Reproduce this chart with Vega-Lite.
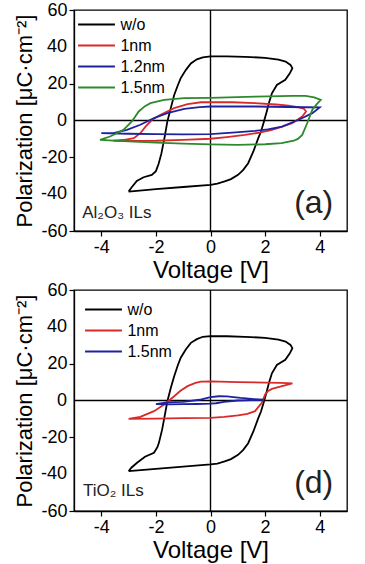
{
  "$schema": "https://vega.github.io/schema/vega-lite/v6.json",
  "padding": {"left": 13, "top": 0, "right": 0, "bottom": 0},
  "background": "white",
  "config": {
    "font": "Liberation Sans",
    "view": {"stroke": "black", "strokeWidth": 1.3},
    "axis": {"domainColor": "black", "domainWidth": 1.3, "tickColor": "black", "tickWidth": 1.2, "tickSize": 5, "labelColor": "black", "titleColor": "black", "labelFontSize": 18, "titleFontSize": 22, "titleFontWeight": "normal", "grid": false, "labelPadding": 2, "labelOverlap": false, "labelBound": false, "labelFlush": false},
    "axisX": {"titleFontSize": 24},
    "legend": {"orient": "none", "title": null, "symbolType": "M-2,0H2", "symbolSize": 340, "symbolStrokeWidth": 2, "labelFontSize": 16, "labelColor": "black", "labelOffset": 13.4, "rowPadding": 2}
  },
  "resolve": {"scale": {"color": "independent"}, "legend": {"color": "independent"}},
  "spacing": -3,
  "datasets": {
    "ylab": [
      {"t": "40", "P": 40},
      {"t": "0", "P": 0},
      {"t": "-40", "P": -40}
    ],
    "a": [
      {"s": "w/o", "i": 1, "V": -3.0, "P": -38.6},
      {"s": "w/o", "i": 2, "V": -2.9, "P": -36.5},
      {"s": "w/o", "i": 3, "V": -2.7, "P": -32.8},
      {"s": "w/o", "i": 4, "V": -2.45, "P": -30.8},
      {"s": "w/o", "i": 5, "V": -2.15, "P": -29.5},
      {"s": "w/o", "i": 6, "V": -2.0, "P": -27.5},
      {"s": "w/o", "i": 7, "V": -1.9, "P": -23.5},
      {"s": "w/o", "i": 8, "V": -1.8, "P": -18},
      {"s": "w/o", "i": 9, "V": -1.68, "P": -9},
      {"s": "w/o", "i": 10, "V": -1.58, "P": -0.5},
      {"s": "w/o", "i": 11, "V": -1.45, "P": 7},
      {"s": "w/o", "i": 12, "V": -1.33, "P": 13.9},
      {"s": "w/o", "i": 13, "V": -1.2, "P": 19},
      {"s": "w/o", "i": 14, "V": -1.09, "P": 23},
      {"s": "w/o", "i": 15, "V": -0.9, "P": 27.5},
      {"s": "w/o", "i": 16, "V": -0.72, "P": 31},
      {"s": "w/o", "i": 17, "V": -0.5, "P": 33.2},
      {"s": "w/o", "i": 18, "V": -0.28, "P": 34.3},
      {"s": "w/o", "i": 19, "V": 0, "P": 34.8},
      {"s": "w/o", "i": 20, "V": 0.6, "P": 34.8},
      {"s": "w/o", "i": 21, "V": 1.26, "P": 34.6},
      {"s": "w/o", "i": 22, "V": 2.0, "P": 34.0},
      {"s": "w/o", "i": 23, "V": 2.49, "P": 33},
      {"s": "w/o", "i": 24, "V": 2.75, "P": 32},
      {"s": "w/o", "i": 25, "V": 2.93, "P": 30.2},
      {"s": "w/o", "i": 26, "V": 3.0, "P": 28.4},
      {"s": "w/o", "i": 27, "V": 2.9, "P": 25.5},
      {"s": "w/o", "i": 28, "V": 2.74, "P": 22.1},
      {"s": "w/o", "i": 29, "V": 2.43, "P": 19.3},
      {"s": "w/o", "i": 30, "V": 2.25, "P": 14.8},
      {"s": "w/o", "i": 31, "V": 2.15, "P": 10},
      {"s": "w/o", "i": 32, "V": 2.06, "P": 4.9},
      {"s": "w/o", "i": 33, "V": 1.94, "P": -1.5},
      {"s": "w/o", "i": 34, "V": 1.85, "P": -6},
      {"s": "w/o", "i": 35, "V": 1.75, "P": -9.6},
      {"s": "w/o", "i": 36, "V": 1.57, "P": -16.8},
      {"s": "w/o", "i": 37, "V": 1.38, "P": -23.2},
      {"s": "w/o", "i": 38, "V": 1.2, "P": -26.8},
      {"s": "w/o", "i": 39, "V": 1.01, "P": -29.5},
      {"s": "w/o", "i": 40, "V": 0.75, "P": -31.8},
      {"s": "w/o", "i": 41, "V": 0.52, "P": -33.1},
      {"s": "w/o", "i": 42, "V": 0.25, "P": -34.3},
      {"s": "w/o", "i": 43, "V": 0, "P": -34.9},
      {"s": "w/o", "i": 44, "V": -1, "P": -36.1},
      {"s": "w/o", "i": 45, "V": -2, "P": -37.3},
      {"s": "w/o", "i": 46, "V": -3.0, "P": -38.6},

      {"s": "1nm", "i": 1, "V": -3.55, "P": -11},
      {"s": "1nm", "i": 2, "V": -3.2, "P": -10.6},
      {"s": "1nm", "i": 3, "V": -2.81, "P": -9.6},
      {"s": "1nm", "i": 4, "V": -2.57, "P": -6.9},
      {"s": "1nm", "i": 5, "V": -2.38, "P": -3.3},
      {"s": "1nm", "i": 6, "V": -2.14, "P": 0.4},
      {"s": "1nm", "i": 7, "V": -1.83, "P": 3.1},
      {"s": "1nm", "i": 8, "V": -1.33, "P": 6.7},
      {"s": "1nm", "i": 9, "V": -0.84, "P": 8.9},
      {"s": "1nm", "i": 10, "V": -0.35, "P": 9.9},
      {"s": "1nm", "i": 11, "V": 0, "P": 10},
      {"s": "1nm", "i": 12, "V": 0.8, "P": 9.9},
      {"s": "1nm", "i": 13, "V": 1.63, "P": 9.4},
      {"s": "1nm", "i": 14, "V": 2.4, "P": 8.7},
      {"s": "1nm", "i": 15, "V": 2.86, "P": 8.0},
      {"s": "1nm", "i": 16, "V": 3.2, "P": 7.2},
      {"s": "1nm", "i": 17, "V": 3.42, "P": 6.4},
      {"s": "1nm", "i": 18, "V": 3.5, "P": 4.9},
      {"s": "1nm", "i": 19, "V": 3.36, "P": 2.2},
      {"s": "1nm", "i": 20, "V": 3.2, "P": 0.5},
      {"s": "1nm", "i": 21, "V": 2.99, "P": -1.5},
      {"s": "1nm", "i": 22, "V": 2.6, "P": -3.5},
      {"s": "1nm", "i": 23, "V": 2.25, "P": -5.1},
      {"s": "1nm", "i": 24, "V": 1.8, "P": -6.6},
      {"s": "1nm", "i": 25, "V": 1.26, "P": -7.8},
      {"s": "1nm", "i": 26, "V": 0.6, "P": -9},
      {"s": "1nm", "i": 27, "V": 0, "P": -9.9},
      {"s": "1nm", "i": 28, "V": -1, "P": -10.5},
      {"s": "1nm", "i": 29, "V": -2, "P": -11},
      {"s": "1nm", "i": 30, "V": -3, "P": -11.1},
      {"s": "1nm", "i": 31, "V": -3.55, "P": -11},

      {"s": "1.2nm", "i": 1, "V": -4.0, "P": -6.9},
      {"s": "1.2nm", "i": 2, "V": -3.56, "P": -6.9},
      {"s": "1.2nm", "i": 3, "V": -3.06, "P": -5.1},
      {"s": "1.2nm", "i": 4, "V": -2.57, "P": -2.3},
      {"s": "1.2nm", "i": 5, "V": -2.07, "P": 1.3},
      {"s": "1.2nm", "i": 6, "V": -1.58, "P": 4.0},
      {"s": "1.2nm", "i": 7, "V": -0.96, "P": 6.3},
      {"s": "1.2nm", "i": 8, "V": -0.4, "P": 7.3},
      {"s": "1.2nm", "i": 9, "V": 0, "P": 7.6},
      {"s": "1.2nm", "i": 10, "V": 1.63, "P": 7.6},
      {"s": "1.2nm", "i": 11, "V": 3.48, "P": 7.2},
      {"s": "1.2nm", "i": 12, "V": 4.0, "P": 7.1},
      {"s": "1.2nm", "i": 13, "V": 3.73, "P": 4.0},
      {"s": "1.2nm", "i": 14, "V": 3.23, "P": 0.4},
      {"s": "1.2nm", "i": 15, "V": 2.62, "P": -3.3},
      {"s": "1.2nm", "i": 16, "V": 2.1, "P": -4.8},
      {"s": "1.2nm", "i": 17, "V": 1.63, "P": -5.6},
      {"s": "1.2nm", "i": 18, "V": 0.8, "P": -6.6},
      {"s": "1.2nm", "i": 19, "V": 0, "P": -7.4},
      {"s": "1.2nm", "i": 20, "V": -1, "P": -7.5},
      {"s": "1.2nm", "i": 21, "V": -2, "P": -7.4},
      {"s": "1.2nm", "i": 22, "V": -3, "P": -7.2},
      {"s": "1.2nm", "i": 23, "V": -4.0, "P": -6.9},

      {"s": "1.5nm", "i": 1, "V": -4.05, "P": -10.5},
      {"s": "1.5nm", "i": 2, "V": -3.68, "P": -8.7},
      {"s": "1.5nm", "i": 3, "V": -3.19, "P": -5.1},
      {"s": "1.5nm", "i": 4, "V": -2.88, "P": -0.5},
      {"s": "1.5nm", "i": 5, "V": -2.63, "P": 4.9},
      {"s": "1.5nm", "i": 6, "V": -2.4, "P": 7.8},
      {"s": "1.5nm", "i": 7, "V": -2.2, "P": 9.4},
      {"s": "1.5nm", "i": 8, "V": -1.7, "P": 11.2},
      {"s": "1.5nm", "i": 9, "V": -0.96, "P": 12.1},
      {"s": "1.5nm", "i": 10, "V": 0, "P": 12.3},
      {"s": "1.5nm", "i": 11, "V": 1.63, "P": 13.0},
      {"s": "1.5nm", "i": 12, "V": 3.0, "P": 13.4},
      {"s": "1.5nm", "i": 13, "V": 3.48, "P": 13.4},
      {"s": "1.5nm", "i": 14, "V": 3.8, "P": 12.6},
      {"s": "1.5nm", "i": 15, "V": 4.04, "P": 11.2},
      {"s": "1.5nm", "i": 16, "V": 3.9, "P": 9},
      {"s": "1.5nm", "i": 17, "V": 3.73, "P": 5.8},
      {"s": "1.5nm", "i": 18, "V": 3.54, "P": -1.5},
      {"s": "1.5nm", "i": 19, "V": 3.36, "P": -7.8},
      {"s": "1.5nm", "i": 20, "V": 3.2, "P": -10},
      {"s": "1.5nm", "i": 21, "V": 3.05, "P": -11},
      {"s": "1.5nm", "i": 22, "V": 2.6, "P": -12.3},
      {"s": "1.5nm", "i": 23, "V": 2.0, "P": -12.9},
      {"s": "1.5nm", "i": 24, "V": 1.0, "P": -13.2},
      {"s": "1.5nm", "i": 25, "V": 0, "P": -13.0},
      {"s": "1.5nm", "i": 26, "V": -1, "P": -12.6},
      {"s": "1.5nm", "i": 27, "V": -2, "P": -12.0},
      {"s": "1.5nm", "i": 28, "V": -3, "P": -11.3},
      {"s": "1.5nm", "i": 29, "V": -4.05, "P": -10.5}
    ],
    "d": [
      {"s": "w/o", "i": 1, "V": -3.0, "P": -38.4},
      {"s": "w/o", "i": 2, "V": -2.9, "P": -36.5},
      {"s": "w/o", "i": 3, "V": -2.69, "P": -33.8},
      {"s": "w/o", "i": 4, "V": -2.4, "P": -30.5},
      {"s": "w/o", "i": 5, "V": -2.07, "P": -28.4},
      {"s": "w/o", "i": 6, "V": -1.95, "P": -25.5},
      {"s": "w/o", "i": 7, "V": -1.89, "P": -23},
      {"s": "w/o", "i": 8, "V": -1.77, "P": -15.7},
      {"s": "w/o", "i": 9, "V": -1.68, "P": -8.5},
      {"s": "w/o", "i": 10, "V": -1.58, "P": -0.4},
      {"s": "w/o", "i": 11, "V": -1.45, "P": 7},
      {"s": "w/o", "i": 12, "V": -1.33, "P": 13.2},
      {"s": "w/o", "i": 13, "V": -1.2, "P": 19},
      {"s": "w/o", "i": 14, "V": -1.09, "P": 23.2},
      {"s": "w/o", "i": 15, "V": -0.9, "P": 27.8},
      {"s": "w/o", "i": 16, "V": -0.72, "P": 31.3},
      {"s": "w/o", "i": 17, "V": -0.5, "P": 33.3},
      {"s": "w/o", "i": 18, "V": -0.28, "P": 34.6},
      {"s": "w/o", "i": 19, "V": 0, "P": 35},
      {"s": "w/o", "i": 20, "V": 0.6, "P": 34.9},
      {"s": "w/o", "i": 21, "V": 1.26, "P": 34.6},
      {"s": "w/o", "i": 22, "V": 2.0, "P": 34.0},
      {"s": "w/o", "i": 23, "V": 2.49, "P": 33},
      {"s": "w/o", "i": 24, "V": 2.75, "P": 32},
      {"s": "w/o", "i": 25, "V": 2.93, "P": 30.2},
      {"s": "w/o", "i": 26, "V": 3.0, "P": 28.4},
      {"s": "w/o", "i": 27, "V": 2.9, "P": 25.5},
      {"s": "w/o", "i": 28, "V": 2.74, "P": 22.1},
      {"s": "w/o", "i": 29, "V": 2.43, "P": 19.3},
      {"s": "w/o", "i": 30, "V": 2.25, "P": 14.8},
      {"s": "w/o", "i": 31, "V": 2.15, "P": 10},
      {"s": "w/o", "i": 32, "V": 2.06, "P": 4.9},
      {"s": "w/o", "i": 33, "V": 1.94, "P": -1.5},
      {"s": "w/o", "i": 34, "V": 1.85, "P": -6},
      {"s": "w/o", "i": 35, "V": 1.75, "P": -9.6},
      {"s": "w/o", "i": 36, "V": 1.57, "P": -16.8},
      {"s": "w/o", "i": 37, "V": 1.38, "P": -23.2},
      {"s": "w/o", "i": 38, "V": 1.2, "P": -26.8},
      {"s": "w/o", "i": 39, "V": 1.01, "P": -29.5},
      {"s": "w/o", "i": 40, "V": 0.75, "P": -31.8},
      {"s": "w/o", "i": 41, "V": 0.52, "P": -33.1},
      {"s": "w/o", "i": 42, "V": 0.25, "P": -34.3},
      {"s": "w/o", "i": 43, "V": 0, "P": -34.7},
      {"s": "w/o", "i": 44, "V": -1, "P": -35.9},
      {"s": "w/o", "i": 45, "V": -2, "P": -37.1},
      {"s": "w/o", "i": 46, "V": -3.0, "P": -38.4},

      {"s": "1nm", "i": 1, "V": -3.0, "P": -10},
      {"s": "1nm", "i": 2, "V": -2.57, "P": -8.9},
      {"s": "1nm", "i": 3, "V": -2.07, "P": -5.8},
      {"s": "1nm", "i": 4, "V": -1.7, "P": -2.2},
      {"s": "1nm", "i": 5, "V": -1.33, "P": 2.3},
      {"s": "1nm", "i": 6, "V": -1.1, "P": 5.3},
      {"s": "1nm", "i": 7, "V": -0.84, "P": 7.8},
      {"s": "1nm", "i": 8, "V": -0.55, "P": 9.6},
      {"s": "1nm", "i": 9, "V": -0.35, "P": 10.3},
      {"s": "1nm", "i": 10, "V": 0, "P": 10.4},
      {"s": "1nm", "i": 11, "V": 1.0, "P": 10.0},
      {"s": "1nm", "i": 12, "V": 2.0, "P": 9.7},
      {"s": "1nm", "i": 13, "V": 2.6, "P": 9.6},
      {"s": "1nm", "i": 14, "V": 3.0, "P": 9.3},
      {"s": "1nm", "i": 15, "V": 2.62, "P": 7.8},
      {"s": "1nm", "i": 16, "V": 2.25, "P": 6.3},
      {"s": "1nm", "i": 17, "V": 2.1, "P": 5},
      {"s": "1nm", "i": 18, "V": 2.0, "P": 3.3},
      {"s": "1nm", "i": 19, "V": 1.88, "P": -1.3},
      {"s": "1nm", "i": 20, "V": 1.63, "P": -5.8},
      {"s": "1nm", "i": 21, "V": 1.35, "P": -7.3},
      {"s": "1nm", "i": 22, "V": 1.01, "P": -8.1},
      {"s": "1nm", "i": 23, "V": 0.5, "P": -8.9},
      {"s": "1nm", "i": 24, "V": 0, "P": -9.4},
      {"s": "1nm", "i": 25, "V": -1, "P": -9.6},
      {"s": "1nm", "i": 26, "V": -2, "P": -9.8},
      {"s": "1nm", "i": 27, "V": -3.0, "P": -10},

      {"s": "1.5nm", "i": 1, "V": -2.0, "P": -2.0},
      {"s": "1.5nm", "i": 2, "V": -1.6, "P": -1.0},
      {"s": "1.5nm", "i": 3, "V": -1.0, "P": -0.7},
      {"s": "1.5nm", "i": 4, "V": -0.4, "P": 0.4},
      {"s": "1.5nm", "i": 5, "V": 0, "P": 1.8},
      {"s": "1.5nm", "i": 6, "V": 0.3, "P": 2.3},
      {"s": "1.5nm", "i": 7, "V": 0.6, "P": 2.2},
      {"s": "1.5nm", "i": 8, "V": 1.1, "P": 1.4},
      {"s": "1.5nm", "i": 9, "V": 1.6, "P": 0.8},
      {"s": "1.5nm", "i": 10, "V": 1.95, "P": 0.4},
      {"s": "1.5nm", "i": 11, "V": 1.5, "P": 0.2},
      {"s": "1.5nm", "i": 12, "V": 1.0, "P": 0.0},
      {"s": "1.5nm", "i": 13, "V": 0.5, "P": -0.8},
      {"s": "1.5nm", "i": 14, "V": 0.2, "P": -1.5},
      {"s": "1.5nm", "i": 15, "V": 0, "P": -1.7},
      {"s": "1.5nm", "i": 16, "V": -0.5, "P": -1.9},
      {"s": "1.5nm", "i": 17, "V": -1.0, "P": -2.0},
      {"s": "1.5nm", "i": 18, "V": -1.5, "P": -2.1},
      {"s": "1.5nm", "i": 19, "V": -2.0, "P": -2.0}
    ]
  },
  "vconcat": [
    {
      "width": 273,
      "height": 221,
      "layer": [
        {"data": {"values": [{}]}, "mark": {"type": "rule", "color": "black", "strokeWidth": 1.4}, "encoding": {"x": {"datum": 0}}},
        {"data": {"values": [{}]}, "mark": {"type": "rule", "color": "black", "strokeWidth": 1.4}, "encoding": {"y": {"datum": 0}}},
        {
          "data": {"name": "a"},
          "mark": {"type": "line", "strokeWidth": 1.8},
          "encoding": {
            "x": {"field": "V", "type": "quantitative", "scale": {"domain": [-5, 5], "nice": false}, "axis": {"title": "Voltage [V]", "values": [-4, -2, 0, 2, 4], "labelOverlap": false, "labelExpr": "toString(datum.value)", "titlePadding": 2}},
            "y": {"field": "P", "type": "quantitative", "scale": {"domain": [-60, 60], "nice": false}, "axis": {"title": "Polarization [μC·cm⁻²]", "values": [-60, -40, -20, 0, 20, 40, 60], "labelOverlap": false, "labelExpr": "toString(datum.value)", "titlePadding": 4}},
            "color": {"field": "s", "type": "nominal", "scale": {"domain": ["w/o", "1nm", "1.2nm", "1.5nm"], "range": ["#000000", "#d92a2a", "#1e22a0", "#2c8a2c"]}, "legend": {"legendX": 12, "legendY": 4}},
            "order": {"field": "i", "type": "quantitative"}
          }
        },
        {"data": {"name": "ylab"}, "mark": {"type": "text", "fontSize": 18, "align": "right", "baseline": "middle", "dx": -7, "color": "black"}, "encoding": {"x": {"datum": -5}, "y": {"field": "P", "type": "quantitative"}, "text": {"field": "t"}}},
        {"data": {"values": [{}]}, "mark": {"type": "text", "text": "(a)", "fontSize": 32, "align": "center", "baseline": "middle", "color": "#222222"}, "encoding": {"x": {"datum": 3.78}, "y": {"datum": -45}}},
        {"data": {"values": [{}]}, "mark": {"type": "text", "text": "Al₂O₃ ILs", "fontSize": 17, "align": "left", "baseline": "middle", "color": "#222222"}, "encoding": {"x": {"datum": -4.7}, "y": {"datum": -50.3}}}
      ]
    },
    {
      "width": 273,
      "height": 221,
      "layer": [
        {"data": {"values": [{}]}, "mark": {"type": "rule", "color": "black", "strokeWidth": 1.4}, "encoding": {"x": {"datum": 0}}},
        {"data": {"values": [{}]}, "mark": {"type": "rule", "color": "black", "strokeWidth": 1.4}, "encoding": {"y": {"datum": 0}}},
        {
          "data": {"name": "d"},
          "mark": {"type": "line", "strokeWidth": 1.8},
          "encoding": {
            "x": {"field": "V", "type": "quantitative", "scale": {"domain": [-5, 5], "nice": false}, "axis": {"title": "Voltage [V]", "values": [-4, -2, 0, 2, 4], "labelOverlap": false, "labelExpr": "toString(datum.value)", "titlePadding": 2}},
            "y": {"field": "P", "type": "quantitative", "scale": {"domain": [-60, 60], "nice": false}, "axis": {"title": "Polarization [μC·cm⁻²]", "values": [-60, -40, -20, 0, 20, 40, 60], "labelOverlap": false, "labelExpr": "toString(datum.value)", "titlePadding": 4}},
            "color": {"field": "s", "type": "nominal", "scale": {"domain": ["w/o", "1nm", "1.5nm"], "range": ["#000000", "#d92a2a", "#1e22a0"]}, "legend": {"legendX": 19, "legendY": 9}},
            "order": {"field": "i", "type": "quantitative"}
          }
        },
        {"data": {"name": "ylab"}, "mark": {"type": "text", "fontSize": 18, "align": "right", "baseline": "middle", "dx": -7, "color": "black"}, "encoding": {"x": {"datum": -5}, "y": {"field": "P", "type": "quantitative"}, "text": {"field": "t"}}},
        {"data": {"values": [{}]}, "mark": {"type": "text", "text": "(d)", "fontSize": 32, "align": "center", "baseline": "middle", "color": "#222222"}, "encoding": {"x": {"datum": 3.78}, "y": {"datum": -45}}},
        {"data": {"values": [{}]}, "mark": {"type": "text", "text": "TiO₂ ILs", "fontSize": 17, "align": "left", "baseline": "middle", "color": "#222222"}, "encoding": {"x": {"datum": -4.67}, "y": {"datum": -49.4}}}
      ]
    }
  ]
}
